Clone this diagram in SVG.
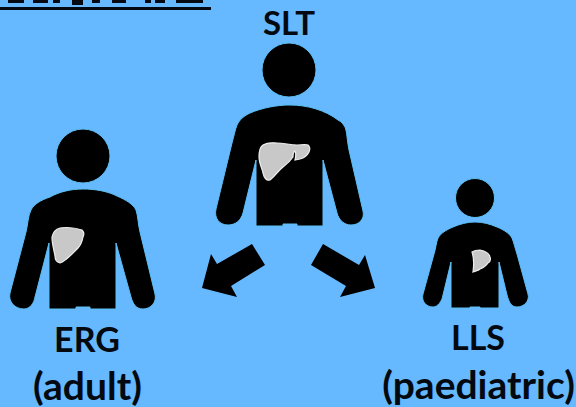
<svg xmlns="http://www.w3.org/2000/svg" width="576" height="407" viewBox="0 0 576 407">
<style>
.bg{fill:#66b8ff}
.k{fill:#000;stroke:#5cc0f5;stroke-width:1}
.a{fill:#000}
.l{fill:#c8c8c8;stroke:#eee;stroke-width:1.2}
.c{fill:#050a12}
text{font-family:"Lato","Open Sans","Liberation Sans",sans-serif;font-weight:700;fill:#03090f;text-anchor:middle}
</style>
<rect class="bg" width="576" height="407"/>
<g id="cropped-heading">
<rect class="c" x="0" y="7" width="211" height="3"/>
<rect class="c" x="8" y="0" width="16" height="3"/>
<rect class="c" x="33" y="0" width="15" height="3"/>
<rect class="c" x="53" y="0" width="7" height="3"/>
<rect class="c" x="72" y="0" width="11" height="5"/>
<rect class="c" x="92" y="0" width="8" height="3"/>
<rect class="c" x="112" y="0" width="14" height="3"/>
<rect class="c" x="145" y="0" width="6" height="3"/>
<rect class="c" x="155" y="0" width="10" height="3"/>
<rect class="c" x="176" y="0" width="27" height="3"/>
</g>
<g id="SLT">
<circle class="k" cx="289" cy="70" r="27"/>
<path class="k" d="M290 105C276 105 262 108 250 113C244 116 240 119 237 125C235 130 234 136 232 143L216 209C214 218 219 225 228 225C236 225 241 220 243 213L256 160V226H283V224H297V226H323V160L337 213C339 220 344 225 351 225C359 225 365 219 363 211L349 150C347 140 347 132 345 127C343 124 342 122 338 120C325 110 307 105 290 105Z"/>
<path class="l" d="M259 157C259 151 260 147 263 145C268 142 272 143 277 143C284 143 290 145 297 145C301 145 305 144 308 145C310 147 310 150 309 152C307 156 304 158 300 159L295 160C296 156 296 153 295 151C293 152 293 155 293 157C291 160 287 164 283 167C278 171 274 177 270 180C266 181 264 177 263 173C262 168 259 163 259 157Z"/>
<text x="289" y="35" font-size="33">SLT</text>
</g>
<g id="ERG">
<circle class="k" cx="83" cy="156" r="27"/>
<path class="k" d="M83 189C70 189 59 192 50 197C41 200 34 204 31 210C28 216 28 224 26 232L10 293C8 302 15 309 24 309C30 309 34 303 35 297L49 243V309H76V307H90V309H116V243L131 297C133 304 136 309 143 309C151 309 157 302 155 294L140 232C138 224 138 216 136 210C133 204 126 200 117 196C107 191 95 189 83 189Z"/>
<path class="l" d="M52 237C53 232 56 229 60 228C67 227 76 228 82 230C84 232 84 235 83 237C82 242 81 245 78 248C72 254 66 261 60 263C56 262 55 258 55 256C54 250 52 244 52 237Z"/>
<text x="87" y="352" font-size="34">ERG</text>
<text x="87.500" y="400" font-size="39">(adult)</text>
</g>
<g id="LLS">
<circle class="k" cx="475" cy="198" r="19.500"/>
<path class="k" d="M475 222C467 222 460 224 453 227C446 230 441 233 438 238C436 243 436 248 434 254L423 294C421 301 426 307 433 307C438 307 442 301 443 295L451 262V308H470V307H480V308H499V262L507 295C509 302 511 307 517 307C524 307 530 301 528 294L517 254C515 248 514 243 512 238C509 233 504 230 497 227C490 224 483 222 475 222Z"/>
<path class="l" d="M472 252C475 250 478 250 480 250C485 251 489 253 490 257C491 260 490 262 488 263C486 266 483 268 480 269C478 271 475 271 473 272C474 265 474 258 472 252Z"/>
<text x="478" y="350" font-size="34">LLS</text>
<text x="478.500" y="399" font-size="39">(paediatric)</text>
</g>
<g id="connectors">
<path class="a" d="M252 244L265 265L231 286L237 297L202 288L211 254L217 264Z"/>
<path class="a" d="M323 244L311 265L346 286L340 297L375 288L365 255L359 265Z"/>
</g>
</svg>
